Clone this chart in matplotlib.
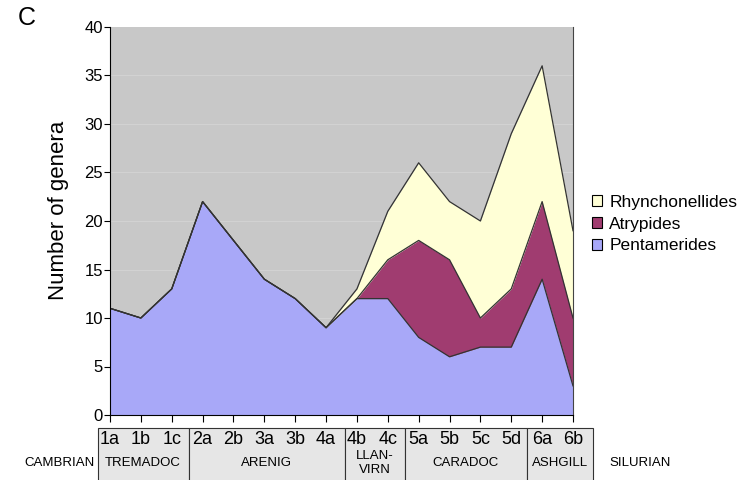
import matplotlib.pyplot as plt
from matplotlib.patches import Patch, Rectangle
import numpy as np

plt.rcParams['font.family'] = ['Liberation Sans', 'DejaVu Sans']

# Data
stages = ["1a", "1b", "1c", "2a", "2b", "3a", "3b", "4a",
          "4b", "4c", "5a", "5b", "5c", "5d", "6a", "6b"]
pentamerides = [11, 10, 13, 22, 18, 14, 12, 9, 12, 12, 8, 6, 7, 7, 14, 3]
atrypides = [0, 0, 0, 0, 0, 0, 0, 0, 0, 4, 10, 10, 3, 6, 8, 7]
rhynchonellides = [0, 0, 0, 0, 0, 0, 0, 0, 1, 5, 8, 6, 10, 16, 14, 9]

series_names = ["TREMADOC", "ARENIG", "LLAN-\nVIRN", "CARADOC", "ASHGILL"]
series_edges = [-0.4, 2.55, 7.6, 9.55, 13.5, 15.65]

col_pent = "#a8a8f8"
col_atry = "#a03c70"
col_rhyn = "#ffffd6"

x = np.arange(len(stages))
p = np.array(pentamerides)
a = p + np.array(atrypides)
r = a + np.array(rhynchonellides)

fig = plt.figure(figsize=(7.45, 4.8), dpi=100)
ax = fig.add_axes([110 / 745, 1 - 415 / 480, (573 - 110) / 745, (415 - 27) / 480])
ax.set_facecolor("#c8c8c8")

for yv in range(5, 40, 5):
    ax.axhline(yv, color="#d2d2d2", lw=0.8, zorder=0)

ax.fill_between(x, 0, p, color=col_pent, lw=0, zorder=1)
ax.fill_between(x, p, a, color=col_atry, lw=0, zorder=1)
ax.fill_between(x, a, r, color=col_rhyn, lw=0, zorder=1)
for line in (p, a, r):
    ax.plot(x, line, color="#333333", lw=0.9, zorder=2)

ax.set_xlim(0, 15)
ax.set_ylim(0, 40)
ax.set_yticks(range(0, 41, 5))
ax.set_xticks(x)
ax.set_xticklabels([])
ax.tick_params(axis="y", labelsize=12, length=4, width=0.8, pad=1)
ax.tick_params(axis="x", length=5, width=0.8)
ax.spines["top"].set_visible(False)
ax.spines["right"].set_color("#444444")
ax.spines["right"].set_linewidth(0.8)
ax.set_ylabel("Number of genera", fontsize=16)
ax.yaxis.set_label_coords(-0.089, 0.528)

# label strip under the axis
trans = ax.get_xaxis_transform()
y_top = (415 - 428) / 388
y_bot = (415 - 482) / 388
for i in range(len(series_names)):
    x0, x1 = series_edges[i], series_edges[i + 1]
    ax.add_patch(Rectangle((x0, y_bot), x1 - x0, y_top - y_bot, transform=trans,
                           facecolor="#e6e6e6", edgecolor="#333333", lw=0.8,
                           clip_on=False, zorder=0))
    ax.text((x0 + x1) / 2, (415 - 463) / 388, series_names[i], transform=trans,
            ha="center", va="center", fontsize=9.5, linespacing=1.15, clip_on=False)

for xi, s in zip(x, stages):
    ax.text(xi, (415 - 439) / 388, s, transform=trans, ha="center", va="center",
            fontsize=13, clip_on=False)

ax.text(-1.62, (415 - 463) / 388, "CAMBRIAN", transform=trans, ha="center",
        va="center", fontsize=9.5, clip_on=False)
ax.text(17.17, (415 - 463) / 388, "SILURIAN", transform=trans, ha="center",
        va="center", fontsize=9.5, clip_on=False)

fig.text(27 / 745, 1 - 18 / 480, "C", fontsize=18, ha="center", va="center")

handles = [Patch(facecolor=col_rhyn, edgecolor="black", lw=0.8),
           Patch(facecolor=col_atry, edgecolor="black", lw=0.8),
           Patch(facecolor=col_pent, edgecolor="black", lw=0.8)]
fig.legend(handles, ["Rhynchonellides", "Atrypides", "Pentamerides"],
           loc="center left", bbox_to_anchor=(585 / 745, 1 - 224 / 480),
           frameon=False, fontsize=12.5, handlelength=0.6, handleheight=0.6,
           handletextpad=0.4, labelspacing=0.4, borderaxespad=0)

fig.savefig("out.png", dpi=100)
